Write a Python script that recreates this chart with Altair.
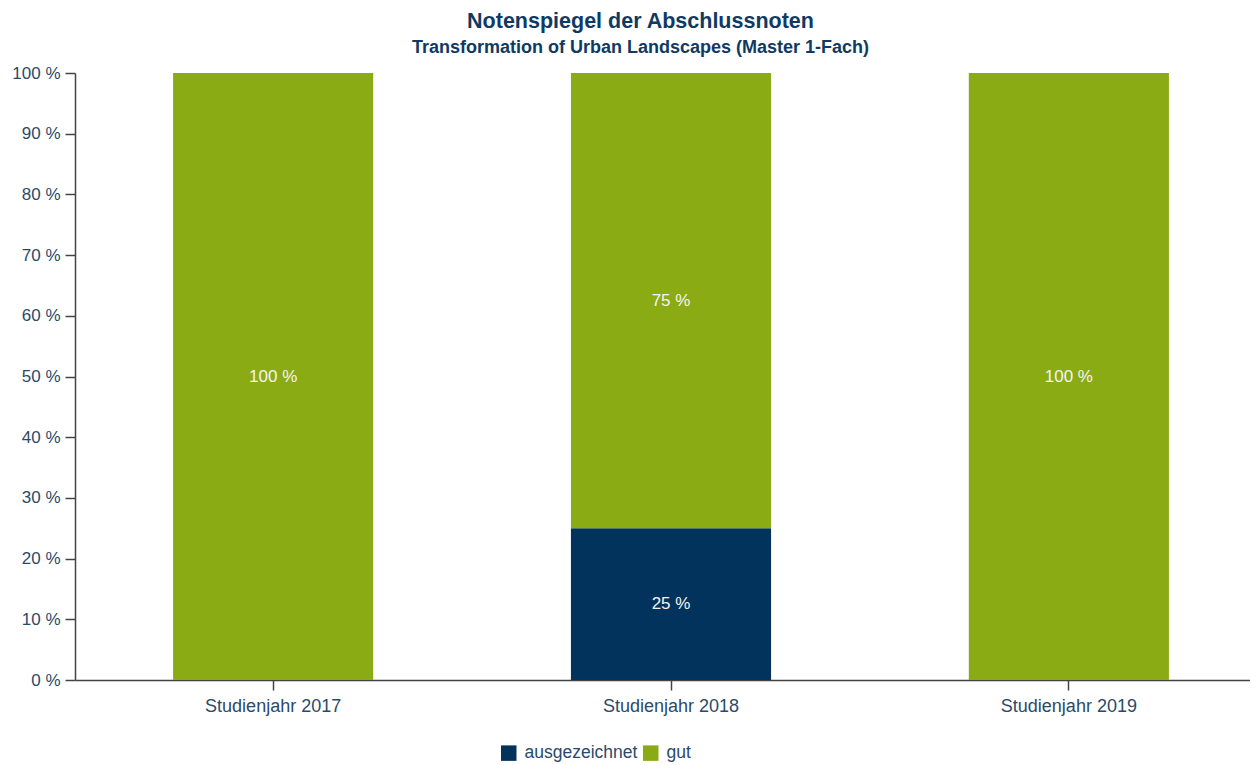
import altair as alt
import pandas as pd

years = ["Studienjahr 2017", "Studienjahr 2018", "Studienjahr 2018", "Studienjahr 2019"]
grades = ["gut", "ausgezeichnet", "gut", "gut"]
values = [100, 25, 75, 100]
grade_order = ["ausgezeichnet", "gut"]
grade_colors = ["#02335c", "#8bab14"]
y_ticks = [0, 10, 20, 30, 40, 50, 60, 70, 80, 90, 100]

df = pd.DataFrame({"year": years, "grade": grades, "value": values})
df["ord"] = df["grade"].map({g: i for i, g in enumerate(grade_order)})

FONT = "Liberation Sans"
LABEL_COLOR = "#2b4a6a"
AXIS_COLOR = "#444444"

base = alt.Chart(df).transform_stack(
    stack="value", groupby=["year"], sort=[alt.SortField("ord", order="ascending")], as_=["y0", "y1"]
).transform_calculate(mid="(datum.y0 + datum.y1) / 2")

xenc = alt.X(
    "year:N",
    title=None,
    scale=alt.Scale(range=[0, 1192], paddingInner=0.497, paddingOuter=0.2465),
    axis=alt.Axis(
        labelAngle=0, labelFontSize=18, labelFont=FONT, labelColor=LABEL_COLOR,
        tickSize=10, labelPadding=7, domainColor=AXIS_COLOR, tickColor=AXIS_COLOR,
        domainWidth=1.5, tickWidth=1.5, grid=False,
    ),
)

bars = base.mark_bar(strokeWidth=0).encode(
    x=xenc,
    y=alt.Y(
        "y0:Q",
        title=None,
        scale=alt.Scale(domain=[0, 100], nice=False),
        axis=alt.Axis(
            values=y_ticks, labelExpr="datum.value + ' %'", labelFontSize=17, labelFont=FONT,
            labelColor=LABEL_COLOR, tickSize=10, labelPadding=5, domainColor=AXIS_COLOR,
            tickColor=AXIS_COLOR, domainWidth=1.5, tickWidth=1.5, grid=False,
        ),
    ),
    y2="y1:Q",
    color=alt.Color(
        "grade:N",
        scale=alt.Scale(domain=grade_order, range=grade_colors),
        legend=alt.Legend(
            title=None, orient="none", legendX=425, legendY=671, direction="horizontal",
            symbolType="square", symbolSize=240, symbolStrokeWidth=0, symbolOpacity=1,
            labelFontSize=17.5, labelFont=FONT, labelColor=LABEL_COLOR, labelOffset=7,
            columnPadding=4,
        ),
    ),
)

labels = base.mark_text(color="#f4f4f4", fontSize=17, font=FONT, baseline="middle").encode(
    x=alt.X("year:N"),
    y=alt.Y("mid:Q"),
    text=alt.Text("label:N"),
).transform_calculate(label="datum.value + ' %'")

chart = alt.layer(bars, labels).properties(
    width=1175,
    height=607,
    autosize=alt.AutoSizeParams(type="none"),
    padding={"left": 67, "top": 65, "right": 0, "bottom": 90},
    title=alt.Title(
        text="Notenspiegel der Abschlussnoten",
        subtitle="Transformation of Urban Landscapes (Master 1-Fach)",
        anchor="middle", dx=-22, font=FONT, fontSize=21.5, fontWeight="bold", color="#0f3a63",
        subtitleFont=FONT, subtitleFontSize=18, subtitleFontWeight="bold", subtitleColor="#0f3a63",
        subtitlePadding=7, offset=7,
    ),
).configure_view(stroke=None)

chart.save("out.html", embed_options={"renderer": "svg", "actions": False})
